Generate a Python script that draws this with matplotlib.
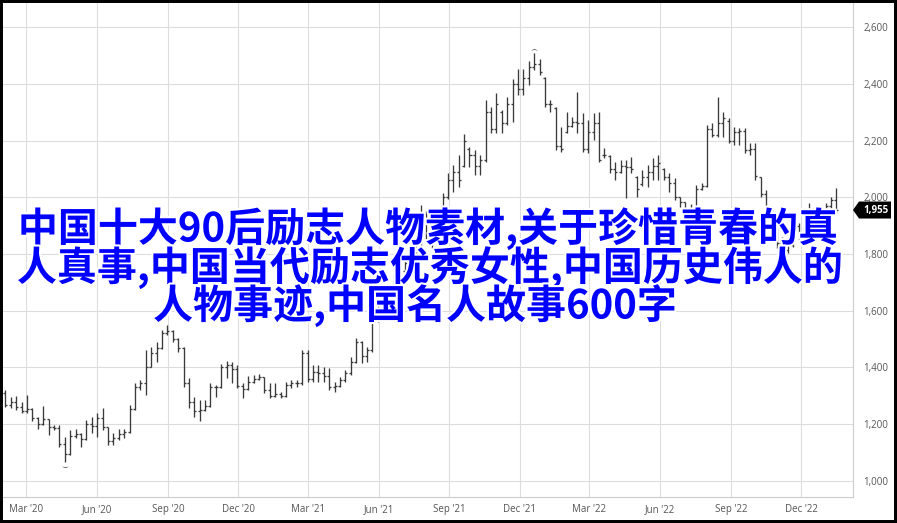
import numpy as np
import pandas as pd
import matplotlib
matplotlib.use('Agg')
import matplotlib.pyplot as plt
import matplotlib.dates as mdates
import matplotlib.patheffects as pe
import matplotlib.transforms as mtrans
from matplotlib.patches import Polygon, Rectangle
from matplotlib.ticker import FixedLocator, FuncFormatter

# ---------------- data (weekly OHLC) ----------------
start_date = '2020-02-03'
opens = [1310, 1268, 1280, 1262, 1248, 1255, 1222, 1200, 1218, 1190,
         1188, 1130, 1095, 1160, 1166, 1148, 1200, 1195, 1222, 1190,
         1140, 1150, 1165, 1172, 1255, 1330, 1345, 1400, 1450, 1470,
         1520, 1530, 1500, 1470, 1345, 1280, 1245, 1250, 1265, 1330,
         1330, 1400, 1410, 1395, 1335, 1325, 1350, 1360, 1365, 1320,
         1300, 1305, 1300, 1340, 1345, 1345, 1450, 1360, 1385, 1380,
         1370, 1330, 1335, 1355, 1380, 1420, 1490, 1440, 1460, 1590,
         1600, 1620, 1680, 1710, 1740, 1770, 1760, 1810, 1940, 1870,
         1880, 1940, 2000, 2060, 2090, 2110, 2170, 2150, 2110, 2130,
         2300, 2240, 2300, 2260, 2330, 2400, 2380, 2420, 2460, 2470,
         2420, 2330, 2315, 2180, 2230, 2250, 2265, 2260, 2170, 2230,
         2260, 2150, 2145, 2100, 2090, 2110, 2108, 2070, 2045, 2070,
         2090, 2110, 2100, 2070, 2050, 2000, 1985, 1960, 1950, 2030,
         2040, 2240, 2220, 2260, 2270, 2200, 2230, 2235, 2165, 2170,
         2070, 2010, 1965, 1890, 1840, 1815, 1830, 1900, 1870, 1880,
         1960, 1940, 1950, 1970, 1990]
highs = [1321, 1297, 1300, 1280, 1303, 1258, 1225, 1264, 1220, 1197,
         1197, 1156, 1180, 1182, 1170, 1215, 1224, 1238, 1256, 1192,
         1168, 1182, 1182, 1268, 1346, 1356, 1462, 1473, 1491, 1532,
         1550, 1532, 1503, 1472, 1362, 1297, 1285, 1285, 1344, 1338,
         1414, 1424, 1420, 1409, 1344, 1370, 1373, 1377, 1367, 1346,
         1344, 1315, 1350, 1356, 1356, 1462, 1462, 1409, 1409, 1403,
         1397, 1350, 1368, 1391, 1438, 1503, 1492, 1474, 1615, 1630,
         1640, 1690, 1730, 1760, 1790, 1800, 1830, 1973, 1950, 1900,
         1960, 2014, 2084, 2113, 2149, 2222, 2176, 2166, 2149, 2343,
         2319, 2366, 2307, 2354, 2415, 2451, 2451, 2481, 2507, 2489,
         2425, 2343, 2319, 2246, 2301, 2284, 2372, 2296, 2272, 2296,
         2301, 2172, 2149, 2125, 2131, 2131, 2143, 2075, 2096, 2113,
         2137, 2149, 2102, 2084, 2067, 2002, 1985, 1975, 2043, 2049,
         2254, 2260, 2354, 2301, 2278, 2249, 2243, 2243, 2190, 2190,
         2072, 2025, 1965, 1900, 1861, 1850, 1920, 1910, 1900, 1978,
         1965, 1970, 1978, 2002, 2031]
lows = [1262, 1256, 1250, 1238, 1238, 1212, 1185, 1198, 1162, 1180,
        1121, 1068, 1090, 1150, 1121, 1145, 1168, 1156, 1180, 1127,
        1127, 1144, 1150, 1170, 1250, 1320, 1303, 1400, 1420, 1465,
        1515, 1491, 1456, 1332, 1256, 1227, 1212, 1248, 1262, 1297,
        1326, 1362, 1344, 1326, 1291, 1320, 1344, 1356, 1309, 1291,
        1297, 1291, 1297, 1327, 1330, 1338, 1350, 1350, 1350, 1350,
        1321, 1315, 1330, 1350, 1375, 1415, 1415, 1421, 1455, 1560,
        1575, 1600, 1660, 1690, 1720, 1730, 1730, 1800, 1850, 1820,
        1860, 1920, 1995, 2020, 2037, 2108, 2108, 2080, 2078, 2125,
        2225, 2225, 2225, 2254, 2266, 2360, 2360, 2395, 2448, 2431,
        2319, 2300, 2166, 2160, 2225, 2249, 2225, 2160, 2155, 2202,
        2125, 2137, 2084, 2061, 2084, 1996, 2084, 2002, 2040, 2037,
        2061, 2061, 2061, 2020, 1990, 1967, 1945, 1930, 1935, 2025,
        2037, 2213, 2213, 2213, 2190, 2184, 2184, 2155, 2149, 2061,
        2002, 1943, 1880, 1820, 1802, 1805, 1825, 1850, 1850, 1878,
        1920, 1930, 1943, 1943, 1946]
closes = [1268, 1280, 1262, 1248, 1255, 1222, 1200, 1218, 1190, 1188,
          1130, 1095, 1160, 1166, 1148, 1200, 1195, 1222, 1190, 1140,
          1150, 1165, 1172, 1255, 1330, 1345, 1400, 1450, 1470, 1520,
          1530, 1500, 1470, 1345, 1280, 1245, 1250, 1265, 1330, 1330,
          1400, 1410, 1395, 1335, 1325, 1350, 1360, 1365, 1320, 1300,
          1305, 1300, 1340, 1345, 1345, 1450, 1360, 1385, 1380, 1370,
          1330, 1335, 1355, 1380, 1420, 1490, 1440, 1460, 1590, 1600,
          1620, 1680, 1710, 1740, 1770, 1760, 1810, 1940, 1870, 1880,
          1940, 2000, 2060, 2090, 2060, 2200, 2150, 2110, 2130, 2300,
          2240, 2330, 2260, 2330, 2400, 2380, 2420, 2460, 2470, 2440,
          2330, 2330, 2180, 2170, 2250, 2265, 2260, 2170, 2230, 2260,
          2130, 2150, 2100, 2090, 2110, 2108, 2100, 2030, 2070, 2090,
          2110, 2120, 2070, 2050, 2000, 1985, 1960, 1950, 2030, 2040,
          2240, 2220, 2260, 2280, 2200, 2230, 2235, 2165, 2170, 2075,
          2010, 1965, 1890, 1840, 1815, 1830, 1900, 1870, 1880, 1960,
          1940, 1950, 1970, 1990, 1955]
y_ticks = [1000, 1200, 1400, 1600, 1800, 2000, 2200, 2400, 2600]
last_label = '1,955'
title_lines = ["中国十大90后励志人物素材,关于珍惜青春的真",
               "人真事,中国当代励志优秀女性,中国历史伟人的",
               "人物事迹,中国名人故事600字"]

# ---------------- figure ----------------
W, H = 897, 523
fig = plt.figure(figsize=(W / 100, H / 100), dpi=100)
fig.patch.set_facecolor('white')
ax = fig.add_axes([3 / W, 26 / H, 850 / W, 494 / H])
ax.set_facecolor('white')

dates = pd.date_range(start_date, periods=len(closes), freq='W-MON')
x = mdates.date2num(dates.to_pydatetime())

bar_col = '#3a3a3a'
half = 2.6  # days
ax.vlines(x, lows, highs, color=bar_col, lw=0.95, zorder=3)
ax.hlines(opens, x - half, x, color=bar_col, lw=0.95, zorder=3)
ax.hlines(closes, x, x + half, color=bar_col, lw=0.95, zorder=3)

# small low / high markers
i_lo = int(np.argmin(lows))
i_hi = int(np.argmax(highs))
ax.annotate(r'$\smile$', xy=(x[i_lo], lows[i_lo]), xytext=(0, -3),
            textcoords='offset points', ha='center', va='center',
            fontsize=5, color='#333333', zorder=4)
ax.annotate(r'$\frown$', xy=(x[i_hi], highs[i_hi]), xytext=(0, 3),
            textcoords='offset points', ha='center', va='center',
            fontsize=5, color='#333333', zorder=4)

ax.set_xlim(mdates.date2num(pd.Timestamp('2020-01-30 20:00')),
            mdates.date2num(pd.Timestamp('2023-02-06 12:00')))
ax.set_ylim(943.6, 2684.6)

ax.xaxis.set_major_locator(mdates.MonthLocator(bymonth=[3, 6, 9, 12], bymonthday=1))
ax.xaxis.set_major_formatter(mdates.DateFormatter("%b '%y"))
ax.yaxis.set_major_locator(FixedLocator(y_ticks))
ax.yaxis.set_major_formatter(FuncFormatter(lambda v, p: f'{v:,.0f}'))
ax.yaxis.tick_right()

ax.grid(True, color='#dddddd', lw=0.8, zorder=0)
ax.set_axisbelow(True)
for s in ['left', 'top']:
    ax.spines[s].set_visible(False)
for s in ['right', 'bottom']:
    ax.spines[s].set_color('#cccccc')
    ax.spines[s].set_linewidth(0.8)

ax.tick_params(axis='y', length=0, pad=7.5, labelsize=7, labelcolor='#555555')
ax.tick_params(axis='x', length=0, pad=5, labelsize=7, labelcolor='#555555')
for lab in ax.get_xticklabels() + ax.get_yticklabels():
    lab.set_family(['Open Sans', 'DejaVu Sans'])

# last price tag
tr = mtrans.Affine2D() + mtrans.ScaledTranslation(1, closes[-1], ax.get_yaxis_transform())
tag = Polygon([(0, 0), (6, 8.5), (38, 8.5), (38, -8.5), (6, -8.5)], closed=True,
              facecolor='black', edgecolor='none', transform=tr, clip_on=False, zorder=6)
ax.add_artist(tag)
ax.annotate(last_label, xy=(1, closes[-1]), xycoords=ax.get_yaxis_transform(),
            xytext=(23 * 0.72, 0), textcoords='offset points', ha='center', va='center',
            color='white', fontsize=7, fontweight='bold', family=['Open Sans', 'DejaVu Sans'],
            annotation_clip=False, zorder=7)

# overlay title text
centers = [(428, 229), (430, 268), (415, 306)]
for line, (cx, cy) in zip(title_lines, centers):
    fig.text(cx / W, 1 - cy / H, line, ha='center', va='center',
             fontsize=28.8, fontweight='bold', color='#0000ff',
             family=['Noto Sans CJK SC', 'DejaVu Sans'], zorder=10,
             path_effects=[pe.withStroke(linewidth=3, foreground='white')])

# black frame around the picture
fig.add_artist(Rectangle((0, 0), 1, 1, transform=fig.transFigure, fill=False,
                         lw=4.3, edgecolor='black', zorder=20))

fig.savefig('out.png', dpi=100, facecolor='white')
